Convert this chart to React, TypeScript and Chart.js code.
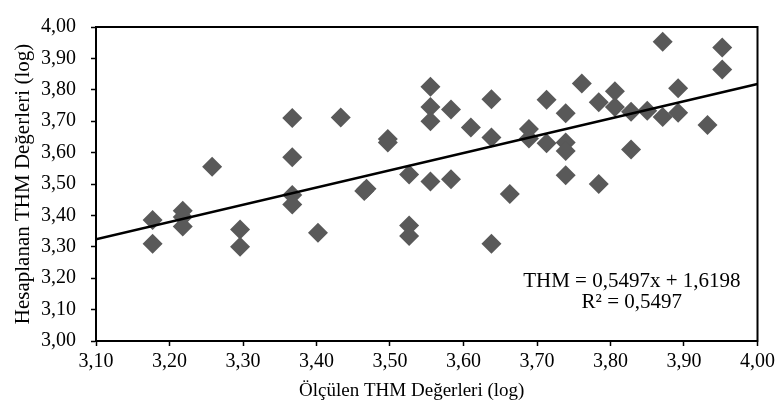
import React, { useEffect, useRef } from "react";
import { Chart, registerables } from "chart.js";

Chart.register(...registerables);

// Measured (x) and predicted (y) THM values (log)
const measured: number[] = [
  3.177, 3.177, 3.218, 3.218, 3.218, 3.258, 3.296, 3.296, 3.367, 3.367,
  3.367, 3.367, 3.402, 3.433, 3.465, 3.468, 3.497, 3.497, 3.526, 3.526,
  3.526, 3.555, 3.555, 3.555, 3.555, 3.583, 3.583, 3.610, 3.638, 3.638,
  3.638, 3.663, 3.689, 3.689, 3.713, 3.713, 3.739, 3.739, 3.739, 3.739,
  3.761, 3.784, 3.784, 3.806, 3.806, 3.828, 3.828, 3.850, 3.871, 3.871,
  3.892, 3.892, 3.932, 3.952, 3.952,
];
const predicted: number[] = [
  3.385, 3.310, 3.415, 3.395, 3.365, 3.555, 3.355, 3.300, 3.710, 3.585,
  3.465, 3.435, 3.345, 3.712, 3.478, 3.485, 3.643, 3.632, 3.530, 3.368,
  3.334, 3.810, 3.745, 3.700, 3.508, 3.737, 3.515, 3.680, 3.770, 3.648,
  3.310, 3.468, 3.675, 3.645, 3.768, 3.630, 3.725, 3.632, 3.605, 3.528,
  3.820, 3.760, 3.500, 3.795, 3.745, 3.730, 3.610, 3.733, 3.953, 3.713,
  3.805, 3.727, 3.688, 3.935, 3.865,
];

const slope = 0.5497;
const intercept = 1.6198;
const equationLines: string[] = ["THM = 0,5497x + 1,6198", "R\u00B2 = 0,5497"];

const xMin = 3.1;
const xMax = 4.0;
const yMin = 3.0;
const yMax = 4.0;
const tickStep = 0.1;

const xTitle = "Ölçülen THM Değerleri (log)";
const yTitle = "Hesaplanan THM Değerleri (log)";

const FONT = "'Liberation Serif', 'Times New Roman', serif";

const fmt = (v: number | string) => Number(v).toFixed(2).replace(".", ",");

export default function App() {
  const ref = useRef<HTMLCanvasElement | null>(null);

  useEffect(() => {
    if (!ref.current) return;
    const points = measured.map((x, i) => ({ x, y: predicted[i] }));
    const trend = [
      { x: xMin, y: slope * xMin + intercept },
      { x: xMax, y: slope * xMax + intercept },
    ];

    const framePlugin = {
      id: "frame",
      afterDatasetsDraw(chart: any) {
        const { ctx, chartArea } = chart;
        ctx.save();
        ctx.strokeStyle = "#000";
        ctx.lineWidth = 2;
        ctx.strokeRect(
          chartArea.left,
          chartArea.top,
          chartArea.right - chartArea.left,
          chartArea.bottom - chartArea.top
        );
        const xs = chart.scales.x;
        const ys = chart.scales.y;
        ctx.fillStyle = "#000";
        ctx.textAlign = "center";
        ctx.textBaseline = "middle";
        // regression equation
        ctx.font = `21px ${FONT}`;
        const cx = xs.getPixelForValue(3.829);
        ctx.fillText(equationLines[0], cx, ys.getPixelForValue(3.19));
        ctx.fillText(equationLines[1], cx, ys.getPixelForValue(3.123));
        // axis titles
        ctx.font = `19px ${FONT}`;
        const midX = (chartArea.left + chartArea.right) / 2 - 15;
        ctx.fillText(xTitle, midX, chart.height - 21);
        ctx.save();
        ctx.font = `21px ${FONT}`;
        ctx.translate(23, (chartArea.top + chartArea.bottom) / 2);
        ctx.rotate(-Math.PI / 2);
        ctx.fillText(yTitle, 0, 0);
        ctx.restore();
        ctx.restore();
      },
    };

    const chart = new Chart(ref.current, {
      type: "scatter",
      data: {
        datasets: [
          {
            type: "scatter",
            data: points,
            pointStyle: "rectRot",
            pointRadius: 10,
            pointHoverRadius: 10,
            backgroundColor: "#595959",
            borderColor: "#595959",
            borderWidth: 0,
            order: 2,
          },
          {
            type: "line",
            data: trend,
            borderColor: "#000",
            borderWidth: 2.5,
            pointRadius: 0,
            fill: false,
            order: 1,
          } as any,
        ],
      },
      options: {
        animation: false,
        responsive: false,
        maintainAspectRatio: false,
        layout: { padding: { left: 0, top: 14, right: 19, bottom: 0 } },
        plugins: {
          legend: { display: false },
          tooltip: { enabled: false },
        },
        scales: {
          x: {
            type: "linear",
            min: xMin,
            max: xMax,
            afterFit(scale: any) {
              scale.height = 71;
            },
            ticks: {
              stepSize: tickStep,
              callback: (v: any) => fmt(v),
              color: "#000",
              font: { family: FONT, size: 20 },
              padding: 4,
              maxRotation: 0,
            },
            grid: {
              drawOnChartArea: false,
              drawTicks: true,
              tickLength: 5,
              tickWidth: 1.5,
              tickColor: "#000",
            },
            border: { display: true, color: "#000", width: 2 },
          },
          y: {
            type: "linear",
            min: yMin,
            max: yMax,
            afterFit(scale: any) {
              scale.width = 96;
            },
            ticks: {
              stepSize: tickStep,
              callback: (v: any) => fmt(v),
              color: "#000",
              font: { family: FONT, size: 20 },
              padding: 15,
            },
            grid: {
              drawOnChartArea: false,
              drawTicks: true,
              tickLength: 5,
              tickWidth: 1.5,
              tickColor: "#000",
            },
            border: { display: true, color: "#000", width: 2 },
          },
        },
      },
      plugins: [framePlugin],
    });
    return () => chart.destroy();
  }, []);

  return (
    <div style={{ position: "absolute", left: 0, top: 0, width: 779, height: 412, background: "#fff" }}>
      <canvas ref={ref} width={779} height={412} style={{ width: 779, height: 412 }} />
    </div>
  );
}
